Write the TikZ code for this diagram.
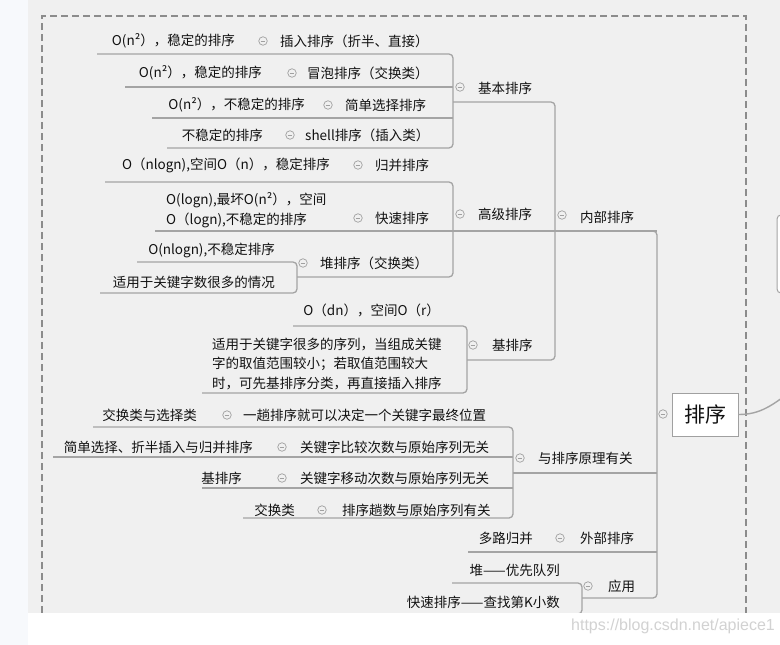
\documentclass[tikz,border=0pt]{standalone}
\usepackage{fontspec}
\setmainfont{Noto Sans CJK SC}
\newfontfamily\wmfont{Liberation Sans}
\newcommand\myfs{\fontsize{13.5}{19.5}\selectfont}
\definecolor{bggray}{HTML}{F0F0F0}
\definecolor{leftc}{HTML}{F7F9FC}
\definecolor{txtc}{HTML}{111111}
\definecolor{linec}{HTML}{A4A4A4}
\definecolor{collc}{HTML}{A0A0A0}
\definecolor{dashc}{HTML}{8C8C8C}
\definecolor{wmc}{HTML}{D2D2D2}
\tikzset{
  txtL/.style={inner sep=0pt, text=txtc, font=\myfs, anchor=west, align=left},
  txtR/.style={inner sep=0pt, text=txtc, font=\myfs, anchor=east, align=left},
  coll/.style={circle, draw=collc, fill=bggray, line width=0.7pt, minimum size=8.5pt, inner sep=0pt,
    path picture={\draw[collc, line width=0.7pt] ([xshift=-2.3pt]path picture bounding box.center) -- ([xshift=2.3pt]path picture bounding box.center);}},
  ln/.style={draw=linec, line width=1.3pt, rounded corners=4pt},
  rootbox/.style={draw=collc, fill=white, line width=0.9pt, minimum width=66pt, minimum height=43pt, inner sep=0pt, font=\fontsize{21}{21}\selectfont, text=txtc}
}
\begin{document}
\begin{tikzpicture}[x=1pt,y=-1pt]
\useasboundingbox (0,0) rectangle (780,645);
\clip (0,0) rectangle (780,645);
% backgrounds
\fill[white] (0,0) rectangle (780,645);
\fill[bggray] (28,0) rectangle (780,613);
\fill[leftc] (0,0) rectangle (28,645);
\draw[dashc, line width=2pt, dash pattern=on 7pt off 4pt] (42,613) -- (42,16) -- (746,16) -- (746,613);

% ---------- connector lines ----------
% 基本排序 children
\draw[ln] (97,54) -- (453,54) -- (453,148) -- (167,148);
\draw[ln] (125,87) -- (453,87);
\draw[ln] (152,118) -- (453,118);
% 内部排序 children spine
\draw[ln] (453,102) -- (555,102) -- (555,360) -- (467,360);
% 高级排序 children
\draw[ln] (105,182) -- (453,182) -- (453,277) -- (297,277);
\draw[ln] (155,231) -- (657,231);
% 堆排序 children
\draw[ln] (137,262) -- (297,262) -- (297,293) -- (100,293);
% 基排序 children
\draw[ln] (293,326) -- (467,326) -- (467,393) -- (202,393);
% root spine
\draw[ln] (555,231) -- (657,231) -- (657,598) -- (582,598);
% 与排序原理有关 children
\draw[ln] (93,427) -- (513,427) -- (513,518) -- (243,518);
\draw[ln] (53,457) -- (513,457);
\draw[ln] (202,488) -- (513,488);
\draw[ln] (513,473) -- (657,473);
% 外部排序
\draw[ln] (468,552) -- (657,552);
% 应用 children
\draw[ln] (452,583) -- (582,583) -- (582,614) -- (390,614);

% ---------- 基本排序 ----------
\node[txtR] (a1t) at (235,41) {O(n²），稳定的排序};
\node[coll] (a1c) at (263,41) {};
\node[txtL] (a1l) at (280,41) {插入排序（折半、直接）};
\node[txtR] (a2t) at (262,73) {O(n²），稳定的排序};
\node[coll] (a2c) at (292,73) {};
\node[txtL] (a2l) at (307,73) {冒泡排序（交换类）};
\node[txtR] (a3t) at (305,105) {O(n²），不稳定的排序};
\node[coll] (a3c) at (328,105) {};
\node[txtL] (a3l) at (345,105) {简单选择排序};
\node[txtR] (a4t) at (263,135) {不稳定的排序};
\node[coll] (a4c) at (290,135) {};
\node[txtL] (a4l) at (305,135) {shell排序（插入类）};
\node[coll] (ac) at (460,87) {};
\node[txtL] (al) at (478,88) {基本排序};

% ---------- 高级排序 ----------
\node[txtR] (b1t) at (330,165) {O（nlogn),空间O（n），稳定排序};
\node[coll] (b1c) at (358,165) {};
\node[txtL] (b1l) at (375,165) {归并排序};
\node[txtL] (b2t) at (166,210) {O(logn),最坏O(n²），空间\\O（logn),不稳定的排序};
\node[coll] (b2c) at (358,218) {};
\node[txtL] (b2l) at (375,218) {快速排序};
\node[txtR] (b3t1) at (275,250) {O(nlogn),不稳定排序};
\node[txtR] (b3t2) at (275,282) {适用于关键字数很多的情况};
\node[coll] (b3c) at (303,263) {};
\node[txtL] (b3l) at (320,263) {堆排序（交换类）};
\node[coll] (bc) at (460,214) {};
\node[txtL] (bl) at (478,214) {高级排序};

% ---------- 基排序 ----------
\node[txtR] (c1t) at (440,310) {O（dn），空间O（r）};
\node[txtL] (c2t) at (212,364) {适用于关键字很多的序列，当组成关键\\字的取值范围较小；若取值范围较大\\时，可先基排序分类，再直接插入排序};
\node[coll] (cc) at (473,345) {};
\node[txtL] (cl) at (492,345) {基排序};

% ---------- 内部排序 ----------
\node[coll] (nc) at (562,215) {};
\node[txtL] (nl) at (580,217) {内部排序};

% ---------- 与排序原理有关 ----------
\node[txtR] (d1t) at (197,415) {交换类与选择类};
\node[coll] (d1c) at (227,415) {};
\node[txtL] (d1l) at (243,415) {一趟排序就可以决定一个关键字最终位置};
\node[txtR] (d2t) at (253,447) {简单选择、折半插入与归并排序};
\node[coll] (d2c) at (282,447) {};
\node[txtL] (d2l) at (300,447) {关键字比较次数与原始序列无关};
\node[txtR] (d3t) at (242,478) {基排序};
\node[coll] (d3c) at (282,478) {};
\node[txtL] (d3l) at (300,478) {关键字移动次数与原始序列无关};
\node[txtR] (d4t) at (295,510) {交换类};
\node[coll] (d4c) at (322,510) {};
\node[txtL] (d4l) at (342,510) {排序趟数与原始序列有关};
\node[coll] (dc) at (520,458) {};
\node[txtL] (dl) at (538,458) {与排序原理有关};

% ---------- 外部排序 ----------
\node[txtR] (et) at (533,538) {多路归并};
\node[coll] (ec) at (560,538) {};
\node[txtL] (el) at (580,538) {外部排序};

% ---------- 应用 ----------
\node[txtR] (f1t) at (560,570) {堆——优先队列};
\node[txtR] (f2t) at (560,602) {快速排序——查找第K小数};
\node[coll] (fc) at (588,586) {};
\node[txtL] (fl) at (608,586) {应用};

% ---------- root ----------
\node[coll] (rc) at (663,414) {};
\node[rootbox] (root) at (705,414.5) {排序};
\draw[draw=linec, fill=white, line width=1pt, rounded corners=4pt] (777,215) rectangle (830,293);
\coordinate (out) at (795,388);
\draw[draw=linec, line width=1.4pt] (root.east) .. controls (760,414.5) and (772,406) .. (out);

% bottom overlay and watermark
\fill[white] (28,613) rectangle (780,645);
\node[anchor=west, inner sep=0pt, text=wmc, font=\wmfont\fontsize{16}{16}\selectfont] (wm) at (571,626) {https://blog.csdn.net/apiece1};
\end{tikzpicture}
\end{document}
